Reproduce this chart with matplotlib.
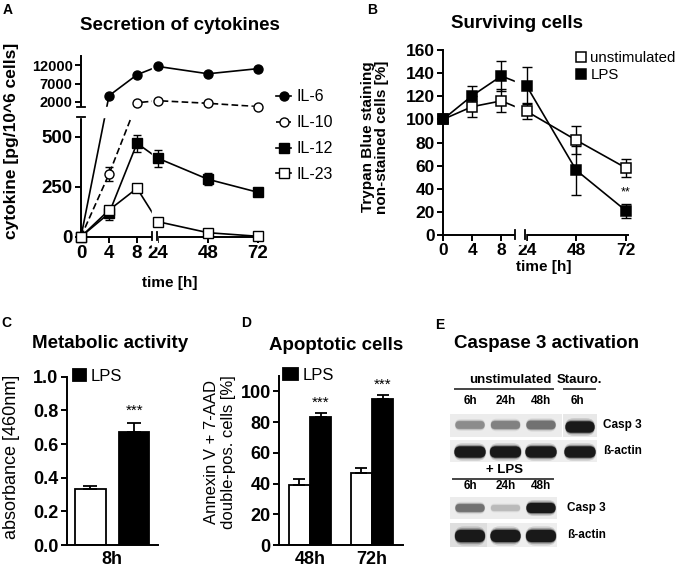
import matplotlib
matplotlib.use('Agg')
import matplotlib.pyplot as plt
from matplotlib.lines import Line2D
from matplotlib.patches import Rectangle, FancyBboxPatch
import numpy as np

plt.rcParams['font.family'] = ['Liberation Sans', 'DejaVu Sans']

# A - Secretion of cytokines
times = [0, 4, 8, 24, 48, 72]
il6 = [0, 3700, 9440, 11700, 9700, 11100]
il6_err = [0, 0, 0, 0, 0, 0]
il10 = [0, 313, 1790, 2340, 1630, 720]
il10_err = [0, 37, 0, 0, 0, 0]
il12 = [0, 117, 467, 392, 287, 222]
il12_err = [0, 35, 42, 42, 29, 8]
il23 = [0, 133, 242, 75, 20, 2]
il23_err = [0, 15, 8, 8, 4, 2]

# B - Surviving cells
unstim = [100, 111, 116, 107, 82, 58]
unstim_err = [2, 9, 10, 7, 12, 8]
lps = [100, 120.5, 137.5, 129, 56, 21]
lps_err = [2, 8, 13, 16, 21, 6]

# C - Metabolic activity
c_groups = ['8h']
c_ctrl = [0.33]
c_ctrl_err = [0.022]
c_lps = [0.673]
c_lps_err = [0.054]

# D - Apoptotic cells
d_groups = ['48h', '72h']
d_ctrl = [39, 47]
d_ctrl_err = [4, 3]
d_lps = [83.5, 95]
d_lps_err = [2.5, 2.5]

# E - Caspase 3 blot (band intensity 0..1)
lanes_top = ['6h', '24h', '48h', '6h']
casp_top = [0.5, 0.55, 0.62, 1.0]
actin_top = [1.0, 1.0, 1.0, 1.0]
lanes_bot = ['6h', '24h', '48h']
casp_bot = [0.62, 0.3, 1.0]
actin_bot = [1.0, 1.0, 1.0]

W, H = 680, 567
fig = plt.figure(figsize=(6.8, 5.67), dpi=100)


def box(l, t, r, b):
    return [l / W, 1 - b / H, (r - l) / W, (b - t) / H]


def ftext(x, y, s, **kw):
    fig.text(x / W, 1 - y / H, s, **kw)


def piecewise(kin, kout):
    return (lambda v: np.interp(v, kin, kout), lambda v: np.interp(v, kout, kin))


def style(ax, lab=12):
    for s in ['top', 'right']:
        ax.spines[s].set_visible(False)
    for s in ['left', 'bottom']:
        ax.spines[s].set_linewidth(1.4)
    ax.tick_params(direction='out', length=4, width=1.4, labelsize=lab, pad=2)
    for t in ax.get_xticklabels() + ax.get_yticklabels():
        t.set_fontweight('bold')


def xbreak(ax, a, b):
    ax.axvspan(a, b, ymin=-0.05, ymax=1, color='white', zorder=3, clip_on=False)
    tr = ax.get_xaxis_transform()
    for v in (a, b):
        ax.plot([v, v], [-0.02, 0.025], color='k', lw=1.3, transform=tr, clip_on=False, zorder=6)


# ---------------- A ----------------
axA = fig.add_axes(box(81, 56.2, 262.2, 236.7))
axA.set_xscale('function', functions=piecewise([-50, 0, 10.1, 23.66, 200], [-350, 0, 70.7, 76.3, 443.6]))
axA.set_yscale('function', functions=piecewise([-1000, 0, 600, 700, 14500, 40000],
                                                [-200, 0, 120, 130, 180.5, 274]))
axA.set_xlim(0, 74)
axA.set_ylim(0, 14500)

seriesA = [('IL-6', il6, il6_err, 'o', 'k', '-'),
           ('IL-10', il10, il10_err, 'o', 'white', (0, (4, 2))),
           ('IL-12', il12, il12_err, 's', 'k', '-'),
           ('IL-23', il23, il23_err, 's', 'white', '-')]
handles = []
for name, v, e, m, fc, ls in seriesA:
    axA.plot(times, v, color='k', ls=ls, lw=1.2, zorder=2, clip_on=False)
    axA.errorbar(times, v, yerr=e, fmt='none', ecolor='k', elinewidth=1, capsize=3, zorder=4, clip_on=False)
    axA.plot(times, v, ls='none', marker=m, mfc=fc, mec='k', ms=6.5, mew=1, zorder=5, clip_on=False)
    handles.append(Line2D([], [], color='k', ls=ls, lw=1.2, marker=m, mfc=fc, mec='k', ms=6.5, mew=1))

axA.axhspan(600, 700, xmin=-0.1, xmax=1, color='white', zorder=3, clip_on=False)
tr = axA.get_yaxis_transform()
for v in (600, 700):
    axA.plot([-0.02, 0.02], [v, v], color='k', lw=1.3, transform=tr, clip_on=False, zorder=6)
xbreak(axA, 10.1, 23.66)
axA.set_xticks(times)
axA.set_yticks([0, 250, 500, 2000, 7000, 12000])
axA.set_yticklabels(['0', '250', '500', '2000', '7000', '12000'])
axA.minorticks_off()
style(axA, 13.5)
for t in axA.get_yticklabels()[3:]:
    t.set_fontsize(10.5)
fig.legend(handles, [s[0] for s in seriesA], loc='upper left', bbox_to_anchor=(270 / W, 1 - 83 / H),
           frameon=False, fontsize=11.5, handlelength=0.9, handletextpad=0.35, labelspacing=0.68,
           borderaxespad=0)
ftext(12, 141, 'cytokine [pg/10^6 cells]', rotation=90, ha='center', va='center', fontsize=12.5, fontweight='bold')
ftext(170, 283, 'time [h]', ha='center', va='center', fontsize=11, fontweight='bold')
ftext(180, 25, 'Secretion of cytokines', ha='center', va='center', fontsize=13.5, fontweight='bold')
ftext(8, 10, 'A', ha='center', va='center', fontsize=10, fontweight='bold')

# ---------------- B ----------------
axB = fig.add_axes(box(443, 50, 628, 235))
axB.set_xscale('function', functions=piecewise([-50, 0, 9.9, 23.2, 200], [-365, 0, 72.3, 82, 448.3]))
axB.set_xlim(0, 73)
axB.set_ylim(0, 160)
hB = []
for name, v, e, fc in [('unstimulated', unstim, unstim_err, 'white'), ('LPS', lps, lps_err, 'k')]:
    axB.plot(times, v, color='k', lw=1.2, zorder=2, clip_on=False)
    axB.errorbar(times, v, yerr=e, fmt='none', ecolor='k', elinewidth=1, capsize=3.5, zorder=4, clip_on=False)
    axB.plot(times, v, ls='none', marker='s', mfc=fc, mec='k', ms=7, mew=1.1, zorder=5, clip_on=False)
    hB.append(Line2D([], [], ls='none', marker='s', mfc=fc, mec='k', ms=7, mew=1.1))
xbreak(axB, 9.9, 23.2)
axB.text(72, 37, '**', ha='center', va='center', fontsize=9)
axB.set_xticks(times)
axB.set_yticks(range(0, 161, 20))
axB.minorticks_off()
style(axB, 12.5)
fig.legend(hB, ['unstimulated', 'LPS'], loc='upper left', bbox_to_anchor=(570 / W, 1 - 45 / H),
           frameon=False, fontsize=10.8, handlelength=0.6, handletextpad=0.35, labelspacing=0.2,
           borderaxespad=0)
ftext(375, 137, 'Trypan Blue staining\nnon-stained cells [%]', rotation=90, ha='center', va='center',
      fontsize=11, fontweight='bold', linespacing=0.95)
ftext(544, 267, 'time [h]', ha='center', va='center', fontsize=11, fontweight='bold')
ftext(517, 23, 'Surviving cells', ha='center', va='center', fontsize=13.5, fontweight='bold')
ftext(372, 10, 'B', ha='center', va='center', fontsize=10, fontweight='bold')

# ---------------- C ----------------
axC = fig.add_axes(box(66.7, 376.7, 158, 545))
xc = np.arange(len(c_groups))
axC.bar(xc - 0.24, c_ctrl, 0.33, color='white', edgecolor='k', lw=1.3,
        yerr=[[0] * len(c_ctrl), c_ctrl_err], error_kw=dict(elinewidth=1.3, capsize=5, capthick=1.3))
bc = axC.bar(xc + 0.24, c_lps, 0.33, color='k', edgecolor='k', lw=1.3, label='LPS',
             yerr=[[0] * len(c_lps), c_lps_err], error_kw=dict(elinewidth=1.3, capsize=5, capthick=1.3))
for i in xc:
    axC.text(i + 0.24, c_lps[i] + c_lps_err[i] + 0.07, '***', ha='center', va='center', fontsize=11)
axC.set_xlim(-0.5, 0.5)
axC.set_ylim(0, 1.0)
axC.set_xticks(xc)
axC.set_xticklabels(c_groups)
axC.set_yticks(np.arange(0, 1.01, 0.2))
axC.set_yticklabels(['%.1f' % v for v in np.arange(0, 1.01, 0.2)])
style(axC, 13)
axC.tick_params(axis='x', length=0, pad=4)
fig.legend([bc], ['LPS'], loc='upper left', bbox_to_anchor=(66 / W, 1 - 362 / H), frameon=False,
           fontsize=12, handlelength=0.8, handleheight=0.8, handletextpad=0.3, borderaxespad=0)
ftext(12, 457, 'absorbance [460nm]', rotation=90, ha='center', va='center', fontsize=13)
ftext(110, 343, 'Metabolic activity', ha='center', va='center', fontsize=13.5, fontweight='bold')
ftext(6, 323, 'C', ha='center', va='center', fontsize=10, fontweight='bold')

# ---------------- D ----------------
axD = fig.add_axes(box(279, 376, 403, 545))
xd = np.arange(len(d_groups))
axD.bar(xd - 0.17, d_ctrl, 0.34, color='white', edgecolor='k', lw=1.3,
        yerr=[[0] * len(d_ctrl), d_ctrl_err], error_kw=dict(elinewidth=1.3, capsize=4, capthick=1.3))
bd = axD.bar(xd + 0.17, d_lps, 0.34, color='k', edgecolor='k', lw=1.3, label='LPS',
             yerr=[[0] * len(d_lps), d_lps_err], error_kw=dict(elinewidth=1.3, capsize=4, capthick=1.3))
for i in xd:
    axD.text(i + 0.17, d_lps[i] + d_lps_err[i] + 6.5, '***', ha='center', va='center', fontsize=11)
axD.set_xlim(-0.5, 1.5)
axD.set_ylim(0, 110)
axD.set_xticks(xd)
axD.set_xticklabels(d_groups)
axD.set_yticks(range(0, 101, 20))
style(axD, 13)
axD.tick_params(axis='x', length=0, pad=4)
fig.legend([bd], ['LPS'], loc='upper left', bbox_to_anchor=(276 / W, 1 - 361 / H), frameon=False,
           fontsize=12, handlelength=0.9, handleheight=0.75, handletextpad=0.3, borderaxespad=0)
ftext(220, 452, 'Annexin V + 7-AAD\ndouble-pos. cells [%]', rotation=90, ha='center', va='center',
      fontsize=12, linespacing=1.15)
ftext(336, 345, 'Apoptotic cells', ha='center', va='center', fontsize=13.5, fontweight='bold')
ftext(246, 323, 'D', ha='center', va='center', fontsize=10, fontweight='bold')

# ---------------- E ----------------
axE = fig.add_axes(box(440, 365, 680, 562))
axE.set_xlim(440, 680)
axE.set_ylim(562, 365)
axE.axis('off')

lane_x = [470, 505.5, 541, 580]


def band(xc, yc, w, h, level):
    shade = str(1 - 0.9 * level)
    for k, a in ((1.6, 0.15), (1.3, 0.3), (1.1, 0.5), (1.0, 1.0)):
        ww, hh = w * (0.92 + 0.08 * k), h * k
        axE.add_patch(FancyBboxPatch((xc - ww / 2, yc - hh / 2), ww, hh,
                                     boxstyle='round,pad=0,rounding_size=%.2f' % (hh / 2),
                                     fc=shade, ec='none', alpha=a))


# strips
axE.add_patch(Rectangle((450, 414), 112, 23, fc='#ececec', ec='none'))
axE.add_patch(Rectangle((563, 414), 34, 23, fc='#e8e8e8', ec='none'))
axE.add_patch(Rectangle((450, 440), 147, 22, fc='#eeeeee', ec='none'))
axE.add_patch(Rectangle((450, 497), 107, 22, fc='#ececec', ec='none'))
axE.add_patch(Rectangle((450, 523), 107, 24, fc='#eeeeee', ec='none'))
axE.add_patch(Rectangle((450, 523), 37, 24, fc='#dedede', ec='none'))

for i, lv in enumerate(casp_top):
    band(lane_x[i], 425 if i < 3 else 427, 29, 4 + 7 * lv, lv)
for i, lv in enumerate(actin_top):
    band(lane_x[i], 452, 31, 11, lv)
for i, lv in enumerate(casp_bot):
    band(lane_x[i], 508, 29, 4 + 6 * lv, lv)
for i, lv in enumerate(actin_bot):
    band(lane_x[i], 536, 30, 12, lv)

bold = dict(fontweight='bold', va='center')
axE.text(510, 380, 'unstimulated', ha='center', fontsize=9.5, **bold)
axE.plot([455, 553], [389, 389], color='#444444', lw=1.4)
axE.text(579.5, 380, 'Stauro.', ha='center', fontsize=9.5, **bold)
axE.plot([564, 595], [389, 389], color='#444444', lw=1.4)
for i, s in enumerate(lanes_top):
    axE.text(lane_x[i] - (3 if i == 3 else 0), 401.5, s, ha='center', fontsize=8.5, **bold)
axE.text(603, 425, 'Casp 3', ha='left', fontsize=8.5, **bold)
axE.text(603, 451, 'ß-actin', ha='left', fontsize=8.5, **bold)
axE.text(505, 470, '+ LPS', ha='center', fontsize=9.5, **bold)
axE.plot([453, 553], [479, 479], color='#444444', lw=1.4)
for i, s in enumerate(lanes_bot):
    axE.text(lane_x[i], 486.5, s, ha='center', fontsize=8.5, **bold)
axE.text(567, 508, 'Casp 3', ha='left', fontsize=8.5, **bold)
axE.text(567, 535, 'ß-actin', ha='left', fontsize=8.5, **bold)
ftext(547, 343, 'Caspase 3 activation', ha='center', va='center', fontsize=13.5, fontweight='bold')
ftext(440, 325, 'E', ha='center', va='center', fontsize=10, fontweight='bold')

fig.savefig('out.png', dpi=100)
